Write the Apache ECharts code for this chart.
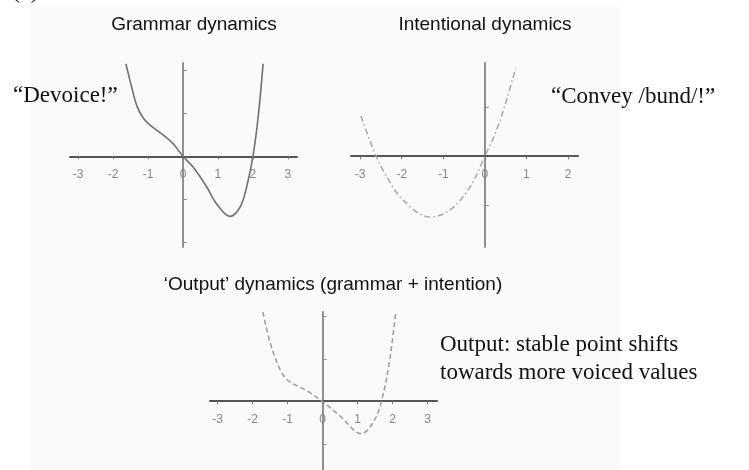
<!DOCTYPE html>
<html>
<head>
<meta charset="utf-8">
<script src="https://cdn.jsdelivr.net/npm/echarts@6/dist/echarts.min.js"></script>
<style>
  html, body { margin: 0; padding: 0; background: #ffffff; }
  #chart { width: 749px; height: 470px; }
</style>
</head>
<body>
<div id="chart"></div>
<script>
// Grammar dynamics: solid curve
const grammarX = [-1.63, -1.47, -1.31, -1.13, -0.94, -0.56, -0.28, 0, 0.29, 0.68, 0.96, 1.34, 1.63, 1.82, 2, 2.15, 2.29];
const grammarY = [2.14, 1.61, 1.15, 0.88, 0.72, 0.49, 0.29, 0, -0.25, -0.71, -1.1, -1.39, -1.18, -0.71, 0, 0.91, 2.14];

// Intentional dynamics: dash-dot curve
const intentX = [-2.98, -2.64, -2.36, -1.96, -1.32, -0.84, -0.36, 0, 0.28, 0.52, 0.74];
const intentY = [0.82, 0.05, -0.42, -0.9, -1.24, -1.1, -0.63, 0, 0.53, 1.14, 1.79];

// Output dynamics (grammar + intention): dashed curve
const outputX = [-1.71, -1.5, -1.22, -0.98, -0.46, 0, 0.49, 1.11, 1.45, 1.68, 1.92, 2.09];
const outputY = [2.1, 1.38, 0.76, 0.49, 0.26, 0, -0.33, -0.75, -0.48, 0, 1, 2.1];

// Tick values
const ticksWide = [-3, -2, -1, 0, 1, 2, 3];
const ticksIntent = [-3, -2, -1, 0, 1, 2];
const yTicksWide = [-2, -1, 1, 2];
const yTicksIntent = [-1, 1];
const yTicksOutput = [-1, 1, 2];

// Axis extents
const xRangeGrammar = [-3.23, 3.26];
const yRangeGrammar = [-2.1, 2.16];
const xRangeIntent = [-3.22, 2.24];
const yRangeIntent = [-1.85, 1.9];
const xRangeOutput = [-3.22, 3.27];
const yRangeOutput = [-1.6, 2.1];

// Titles and notes
const titleGrammar = 'Grammar dynamics';
const titleIntent = 'Intentional dynamics';
const titleOutput = '\u2018Output\u2019 dynamics (grammar + intention)';
const noteDevoice = '\u201CDevoice!\u201D';
const noteConvey = '\u201CConvey /bund/!\u201D';
const noteOutput1 = 'Output: stable point shifts';
const noteOutput2 = 'towards more voiced values';

const grids = [
  { left: 70, top: 63, width: 227, height: 184 },
  { left: 351, top: 63, width: 227, height: 184 },
  { left: 210, top: 312, width: 227, height: 159 }
];

const pairs = (xs, ys) => xs.map((x, i) => [x, ys[i]]);

// The horizontal axis sits on y = 0: lift it from the grid bottom by the zero's height
function zeroLift(grid, yRange) {
  return -grid.height * (0 - yRange[0]) / (yRange[1] - yRange[0]);
}

function xAxisFor(gridIndex, xRange, yRange, ticks) {
  return {
    type: 'value', gridIndex, min: xRange[0], max: xRange[1],
    position: 'bottom',
    offset: zeroLift(grids[gridIndex], yRange),
    axisLine: { onZero: false, lineStyle: { color: '#555555', width: 2 } },
    axisTick: { customValues: ticks, length: 3, lineStyle: { color: '#777777', width: 1 } },
    axisLabel: {
      customValues: ticks, margin: 12, color: '#868686',
      fontFamily: 'Liberation Sans', fontSize: 12
    },
    splitLine: { show: false }
  };
}
function yAxisFor(gridIndex, yRange, ticks) {
  return {
    type: 'value', gridIndex, min: yRange[0], max: yRange[1],
    axisLine: { onZero: true, lineStyle: { color: '#8f8f8f', width: 2 } },
    axisTick: { customValues: ticks, inside: true, length: 4, lineStyle: { color: '#8f8f8f', width: 1 } },
    axisLabel: { show: false },
    splitLine: { show: false }
  };
}

function text(str, x, y, font, align, vAlign) {
  return {
    type: 'text', x, y, z: 10,
    style: { text: str, font, fill: '#111111', align, verticalAlign: vAlign || 'middle' }
  };
}

const chart = echarts.init(document.getElementById('chart'), null, { renderer: 'canvas' });

chart.setOption({
  backgroundColor: '#ffffff',
  animation: false,
  grid: grids,
  xAxis: [
    xAxisFor(0, xRangeGrammar, yRangeGrammar, ticksWide),
    xAxisFor(1, xRangeIntent, yRangeIntent, ticksIntent),
    xAxisFor(2, xRangeOutput, yRangeOutput, ticksWide)
  ],
  yAxis: [
    yAxisFor(0, yRangeGrammar, yTicksWide),
    yAxisFor(1, yRangeIntent, yTicksIntent),
    yAxisFor(2, yRangeOutput, yTicksOutput)
  ],
  series: [
    {
      type: 'line', xAxisIndex: 0, yAxisIndex: 0, data: pairs(grammarX, grammarY),
      smooth: 0.35, symbol: 'none',
      lineStyle: { color: '#707070', width: 1.6 }
    },
    {
      type: 'line', xAxisIndex: 1, yAxisIndex: 1, data: pairs(intentX, intentY),
      smooth: 0.35, symbol: 'none',
      lineStyle: { color: '#a6a6a6', width: 1.5, type: [6, 3, 1.5, 3] }
    },
    {
      type: 'line', xAxisIndex: 2, yAxisIndex: 2, data: pairs(outputX, outputY),
      smooth: 0.35, symbol: 'none',
      lineStyle: { color: '#9a9a9a', width: 1.5, type: [5, 3] }
    }
  ],
  graphic: [
    {
      type: 'rect', z: -10, silent: true,
      shape: { x: 30, y: 7, width: 590, height: 463 },
      style: { fill: '#fafafa' }
    },
    text('(c)', 12, 4, '24px "Liberation Serif"', 'left', 'bottom'),
    text(titleGrammar, 194, 25, '19px "Liberation Sans"', 'center'),
    text(titleIntent, 485, 25, '19px "Liberation Sans"', 'center'),
    text(titleOutput, 333, 285, '19px "Liberation Sans"', 'center'),
    text(noteDevoice, 13, 96, '23px "Liberation Serif"', 'left'),
    text(noteConvey, 551, 97, '23px "Liberation Serif"', 'left'),
    text(noteOutput1, 440, 345, '23px "Liberation Serif"', 'left'),
    text(noteOutput2, 440, 373, '23px "Liberation Serif"', 'left')
  ]
});
</script>
</body>
</html>
